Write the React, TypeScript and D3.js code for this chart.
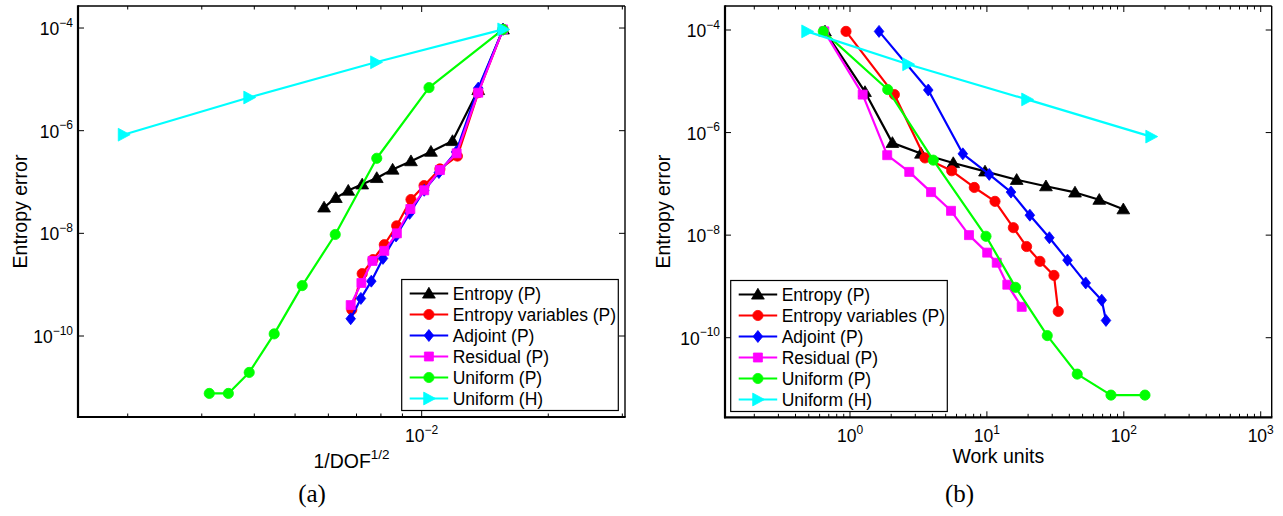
import React, { useEffect, useRef } from 'react';
import * as d3 from 'd3';

const seriesNames = ['Entropy (P)', 'Entropy variables (P)', 'Adjoint (P)', 'Residual (P)', 'Uniform (P)', 'Uniform (H)'];
const seriesColors = ['#000000', '#ff0000', '#0000ff', '#ff00ff', '#00ff00', '#00ffff'];
const seriesMarkers = ['triangle', 'circle', 'diamond', 'square', 'circle', 'triangleRight'];

// entropy error, coarse -> fine (same values in both panels)
const errEntropy = [9.4e-5, 6.2e-6, 6.3e-7, 3.9e-7, 2.55e-7, 1.75e-7, 1.2e-7, 9.0e-8, 6.8e-8, 4.9e-8, 3.2e-8];
const errEntropyVars = [9.4e-5, 5.5e-6, 3.2e-7, 1.8e-7, 8.5e-8, 4.56e-8, 1.4e-8, 6.0e-9, 3.08e-9, 1.64e-9, 3.25e-10];
const errAdjoint = [9.4e-5, 6.75e-6, 3.85e-7, 1.53e-7, 6.9e-8, 2.45e-8, 8.9e-9, 3.25e-9, 1.17e-9, 5.4e-10, 2.17e-10];
const errResidual = [9.4e-5, 5.5e-6, 3.62e-7, 1.71e-7, 6.9e-8, 2.98e-8, 1.0e-8, 4.56e-9, 2.9e-9, 1.08e-9, 4.0e-10];
const errUniformP = [9.4e-5, 6.9e-6, 2.9e-7, 9.5e-9, 9.6e-10, 1.1e-10, 1.95e-11, 7.6e-12, 7.6e-12];
const errUniformH = [9.4e-5, 2.15e-5, 4.43e-6, 8.35e-7];

// 1/DOF^(1/2)
const dofEntropy = [1.561e-2, 1.363e-2, 1.184e-2, 1.052e-2, 9.43e-3, 8.53e-3, 7.82e-3, 7.22e-3, 6.69e-3, 6.25e-3, 5.86e-3];
const dofEntropyVars = [1.561e-2, 1.363e-2, 1.216e-2, 1.105e-2, 1.013e-2, 9.43e-3, 8.72e-3, 8.15e-3, 7.66e-3, 7.22e-3, 6.82e-3];
const dofAdjoint = [1.561e-2, 1.363e-2, 1.207e-2, 1.099e-2, 1.014e-2, 9.36e-3, 8.69e-3, 8.09e-3, 7.59e-3, 7.17e-3, 6.78e-3];
const dofResidual = [1.561e-2, 1.363e-2, 1.211e-2, 1.105e-2, 1.014e-2, 9.40e-3, 8.73e-3, 8.15e-3, 7.64e-3, 7.19e-3, 6.78e-3];
const dofUniformP = [1.561e-2, 1.041e-2, 7.82e-3, 6.23e-3, 5.20e-3, 4.46e-3, 3.89e-3, 3.47e-3, 3.126e-3];
const dofUniformH = [1.561e-2, 7.78e-3, 3.885e-3, 1.954e-3];

// work units
const workEntropy = [0.657, 1.287, 2.04, 3.30, 5.68, 9.69, 16.5, 27.0, 44.0, 66.2, 99.2];
const workEntropyVars = [0.935, 2.11, 3.53, 5.53, 8.09, 11.46, 15.6, 19.5, 24.4, 30.9, 33.2];
const workAdjoint = [1.63, 3.73, 6.67, 10.4, 15.0, 20.6, 28.6, 38.8, 52.7, 69.0, 74.1];
const workResidual = [0.649, 1.238, 1.87, 2.71, 3.91, 5.47, 7.40, 10.05, 11.8, 14.1, 17.96];
const workUniformP = [0.638, 1.886, 4.06, 9.85, 16.2, 27.6, 45.7, 80.6, 142.8];
const workUniformH = [0.485, 2.65, 19.6, 158];

const errors = [errEntropy, errEntropyVars, errAdjoint, errResidual, errUniformP, errUniformH];
const dofX = [dofEntropy, dofEntropyVars, dofAdjoint, dofResidual, dofUniformP, dofUniformH];
const workX = [workEntropy, workEntropyVars, workAdjoint, workResidual, workUniformP, workUniformH];

const yTickValues = [1e-10, 1e-8, 1e-6, 1e-4];
const yTickExps = ['−10', '−8', '−6', '−4'];

const SANS = '"Liberation Sans", Arial, Helvetica, sans-serif';

function markerPath(kind: string) {
  switch (kind) {
    case 'triangle': return 'M0,-6.2L6.4,4.6L-6.4,4.6Z';
    case 'triangleRight': return 'M6.7,0L-5.2,-6.4L-5.2,6.4Z';
    case 'diamond': return 'M0,-6L4.8,0L0,6L-4.8,0Z';
    case 'square': return 'M-4.5,-4.5H4.5V4.5H-4.5Z';
    default: return d3.symbol(d3.symbolCircle, 82)() as string;
  }
}

function decadeMinors(lo: number, hi: number) {
  const out: number[] = [];
  for (let e = Math.floor(Math.log10(lo)); e <= Math.ceil(Math.log10(hi)); e++) {
    for (let m = 2; m <= 9; m++) {
      const v = m * Math.pow(10, e);
      if (v > lo && v < hi) out.push(v);
    }
  }
  return out;
}

function drawPanel(svg: any, p: any) {
  const x = d3.scaleLog().domain(p.xDomain).range([p.x0, p.x1]);
  const y = d3.scaleLog().domain(p.yDomain).range([p.y1, p.y0]);
  const g = svg.append('g');

  // data lines + markers
  const line = d3.line<[number, number]>().x(d => x(d[0])).y(d => y(d[1]));
  p.xs.forEach((xs: number[], i: number) => {
    const pts: [number, number][] = xs.map((v, k) => [v, errors[i][k]]);
    g.append('path').attr('d', line(pts)).attr('fill', 'none')
      .attr('stroke', seriesColors[i]).attr('stroke-width', 2.2).attr('stroke-linejoin', 'round');
    g.selectAll(null).data(pts).join('path')
      .attr('d', markerPath(seriesMarkers[i]))
      .attr('transform', d => `translate(${x(d[0])},${y(d[1])})`)
      .attr('fill', seriesColors[i]).attr('stroke', seriesColors[i]).attr('stroke-width', 0.8);
  });

  // axes box
  g.append('line').attr('x1', p.x0).attr('x2', p.x1).attr('y1', p.y0).attr('y2', p.y0).attr('stroke', '#000').attr('stroke-width', 1.4);
  g.append('line').attr('x1', p.x1).attr('x2', p.x1).attr('y1', p.y0).attr('y2', p.y1).attr('stroke', '#000').attr('stroke-width', 1.4);
  g.append('line').attr('x1', p.x0).attr('x2', p.x0).attr('y1', p.y0 - 0.7).attr('y2', p.y1 + 1).attr('stroke', '#000').attr('stroke-width', 2.2);
  g.append('line').attr('x1', p.x0 - 1).attr('x2', p.x1 + 0.7).attr('y1', p.y1).attr('y2', p.y1).attr('stroke', '#000').attr('stroke-width', 2.2);

  // x ticks
  const tick = (xv: number, len: number) => {
    g.append('line').attr('x1', x(xv)).attr('x2', x(xv)).attr('y1', p.y1).attr('y2', p.y1 - len).attr('stroke', '#000').attr('stroke-width', 1);
    g.append('line').attr('x1', x(xv)).attr('x2', x(xv)).attr('y1', p.y0).attr('y2', p.y0 + len).attr('stroke', '#000').attr('stroke-width', 1);
  };
  decadeMinors(p.xDomain[0], p.xDomain[1]).forEach(v => tick(v, 3.5));
  p.xMajor.forEach((v: number, k: number) => {
    tick(v, 6);
    const t = g.append('text').attr('x', x(v)).attr('y', 442).attr('text-anchor', 'middle')
      .attr('font-family', SANS).attr('font-size', 17.5);
    t.append('tspan').text('10');
    t.append('tspan').attr('dy', -8.5).attr('font-size', 12).text(p.xMajorExp[k]);
  });

  // y ticks
  yTickValues.forEach((v, k) => {
    g.append('line').attr('x1', p.x0).attr('x2', p.x0 + 6).attr('y1', y(v)).attr('y2', y(v)).attr('stroke', '#000').attr('stroke-width', 1);
    g.append('line').attr('x1', p.x1).attr('x2', p.x1 - 6).attr('y1', y(v)).attr('y2', y(v)).attr('stroke', '#000').attr('stroke-width', 1);
    const t = g.append('text').attr('x', p.x0 - 5).attr('y', y(v) + 7).attr('text-anchor', 'end')
      .attr('font-family', SANS).attr('font-size', 17.5);
    t.append('tspan').text('10');
    t.append('tspan').attr('dy', -8.5).attr('font-size', 12).text(yTickExps[k]);
  });

  // axis labels
  g.append('text').attr('transform', `translate(${p.yLabelX},${(p.y0 + p.y1) / 2}) rotate(-90)`)
    .attr('text-anchor', 'middle').attr('font-family', SANS).attr('font-size', 19.5).text('Entropy error');
  const xl = g.append('text').attr('x', (p.x0 + p.x1) / 2).attr('y', p.xLabelY).attr('text-anchor', 'middle')
    .attr('font-family', SANS).attr('font-size', 19.5);
  xl.append('tspan').text(p.xLabel);
  if (p.xLabelSup) xl.append('tspan').attr('dy', -9).attr('font-size', 13.5).text(p.xLabelSup);

  // caption
  g.append('text').attr('x', p.captionX).attr('y', 502).attr('text-anchor', 'middle')
    .attr('font-family', '"Liberation Serif", "Times New Roman", serif').attr('font-size', 25).text(p.caption);

  // legend
  const lg = g.append('g').attr('transform', `translate(${p.legendX},${p.legendY})`);
  lg.append('rect').attr('width', 216.6).attr('height', 131).attr('fill', '#fff').attr('stroke', '#000').attr('stroke-width', 1.2);
  seriesNames.forEach((name, i) => {
    const ry = 14 + i * 21;
    lg.append('line').attr('x1', 8).attr('x2', 46.5).attr('y1', ry).attr('y2', ry).attr('stroke', seriesColors[i]).attr('stroke-width', 2.2);
    lg.append('path').attr('d', markerPath(seriesMarkers[i])).attr('transform', `translate(27.2,${ry})`)
      .attr('fill', seriesColors[i]).attr('stroke', seriesColors[i]).attr('stroke-width', 0.8);
    lg.append('text').attr('x', 51).attr('y', ry + 6).attr('font-family', SANS).attr('font-size', 17.5).text(name);
  });
}

const panels = [
  {
    x0: 78, x1: 625, y0: 6, y1: 417,
    xDomain: [1.5235e-3, 3.044e-2], yDomain: [Math.pow(10, -11.578), Math.pow(10, -3.571)],
    xs: dofX, xMajor: [1e-2], xMajorExp: ['−2'],
    xLabel: '1/DOF', xLabelSup: '1/2', xLabelY: 468, yLabelX: 27,
    caption: '(a)', captionX: 312, legendX: 401.7, legendY: 279.5,
  },
  {
    x0: 725, x1: 1271.7, y0: 6, y1: 417.3,
    xDomain: [0.1222, 1203], yDomain: [Math.pow(10, -11.552), Math.pow(10, -3.532)],
    xs: workX, xMajor: [1, 10, 100, 1000], xMajorExp: ['0', '1', '2', '3'],
    xLabel: 'Work units', xLabelSup: '', xLabelY: 463, yLabelX: 670,
    caption: '(b)', captionX: 959.5, legendX: 730.7, legendY: 280.5,
  },
];

export default function App() {
  const ref = useRef<SVGSVGElement>(null);

  useEffect(() => {
    const svg = d3.select(ref.current);
    svg.selectAll('*').remove();
    panels.forEach(p => drawPanel(svg, p));
  }, []);

  return (
    <svg ref={ref} width={1283} height={516}
      style={{ position: 'absolute', left: 0, top: 0, background: '#fff', display: 'block' }} />
  );
}
